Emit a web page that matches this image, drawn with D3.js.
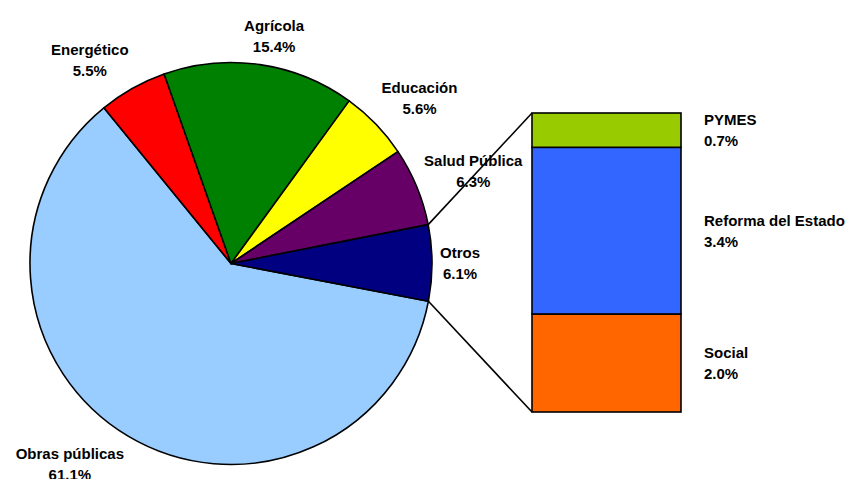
<!DOCTYPE html>
<html>
<head>
<meta charset="utf-8">
<script src="https://cdn.jsdelivr.net/npm/d3@7"></script>
<style>
  body { margin: 0; background: #fff; }
  text { font-family: "Liberation Sans", Arial, sans-serif; font-weight: bold; font-size: 15px; fill: #000; }
</style>
</head>
<body>
<svg id="chart"></svg>
<script>
// pie slices (clockwise, starting with Obras publicas)
var sectors = ['Obras públicas', 'Energético', 'Agrícola', 'Educación', 'Salud Pública', 'Otros'];
var sectorValues = [61.1, 5.5, 15.4, 5.6, 6.3, 6.1];
var sectorColors = ['#99ccff', '#ff0000', '#008000', '#ffff00', '#660066', '#000080'];

// breakdown of "Otros" (top to bottom)
var otros = ['PYMES', 'Reforma del Estado', 'Social'];
var otrosValues = [0.7, 3.4, 2.0];
var otrosColors = ['#99cc00', '#3366ff', '#ff6600'];

var WIDTH = 854, HEIGHT = 479;
var cx = 231, cy = 263.5, R = 201;
var lineH = 21;

var svg = d3.select('#chart').attr('width', WIDTH).attr('height', HEIGHT);

var data = sectors.map(function(s, i) { return { name: s, value: sectorValues[i], color: sectorColors[i] }; });

// start so that "Otros" sits at 3 o'clock
var otrosSpan = sectorValues[5] / d3.sum(sectorValues) * 2 * Math.PI;
var start = Math.PI / 2 + otrosSpan / 2 - 0.003;

var pie = d3.pie().sort(null).value(function(d) { return d.value; })
  .startAngle(start).endAngle(start + 2 * Math.PI);
var arcs = pie(data);
var arc = d3.arc().innerRadius(0).outerRadius(R);

var g = svg.append('g').attr('transform', 'translate(' + cx + ',' + cy + ')');

g.selectAll('path.slice').data(arcs).enter().append('path')
  .attr('class', 'slice')
  .attr('d', arc)
  .attr('fill', function(d) { return d.data.color; })
  .attr('stroke', '#000')
  .attr('stroke-width', 1.6)
  .attr('stroke-linejoin', 'round');

// labels placed outside, box corner anchored near the edge (excel style)
var clamp = function(v) { return Math.max(0, Math.min(1, v)); };
arcs.forEach(function(d) {
  var a = (d.startAngle + d.endAngle) / 2;
  var s = Math.sin(a), c = Math.cos(a);
  var ax = s * (R + 8), ay = -c * (R + 8);
  var lbl = g.append('g');
  var t1 = lbl.append('text').attr('text-anchor', 'middle').attr('y', 16).text(d.data.name);
  var t2 = lbl.append('text').attr('text-anchor', 'middle').attr('y', 16 + lineH).text(d3.format('.1f')(d.data.value) + '%');
  var w = Math.max(t1.node().getComputedTextLength(), t2.node().getComputedTextLength());
  var h = 2 * lineH;
  var fx = clamp(0.5 - 1.5 * s), fy = clamp(0.5 + 0.8 * c);
  var left = ax - fx * w, top = ay - fy * h;
  lbl.attr('transform', 'translate(' + (left + w / 2) + ',' + top + ')');
});

// stacked bar for "Otros"
var barX = 532, barW = 149;
var y = d3.scaleLinear().domain([0, d3.sum(otrosValues)]).range([412, 113]);
var stackData = [];
var acc = 0;
for (var i = otros.length - 1; i >= 0; i--) {
  stackData.push({ name: otros[i], value: otrosValues[i], color: otrosColors[i], y0: acc, y1: acc + otrosValues[i] });
  acc += otrosValues[i];
}

// connector lines
var oArc = arcs[5];
[[oArc.startAngle, y(acc)], [oArc.endAngle, y(0)]].forEach(function(p) {
  svg.append('line')
    .attr('x1', cx + Math.sin(p[0]) * R).attr('y1', cy - Math.cos(p[0]) * R)
    .attr('x2', barX).attr('y2', p[1])
    .attr('stroke', '#000').attr('stroke-width', 1.6);
});

svg.selectAll('rect.seg').data(stackData).enter().append('rect')
  .attr('class', 'seg')
  .attr('x', barX)
  .attr('y', function(d) { return y(d.y1); })
  .attr('width', barW)
  .attr('height', function(d) { return y(d.y0) - y(d.y1); })
  .attr('fill', function(d) { return d.color; })
  .attr('stroke', '#000')
  .attr('stroke-width', 1.6);

var segLabels = svg.selectAll('g.seglabel').data(stackData).enter().append('g')
  .attr('class', 'seglabel')
  .attr('transform', function(d) { return 'translate(' + (barX + barW + 23) + ',' + ((y(d.y0) + y(d.y1)) / 2) + ')'; });
segLabels.append('text').attr('y', -5).text(function(d) { return d.name; });
segLabels.append('text').attr('y', -5 + lineH).text(function(d) { return d3.format('.1f')(d.value) + '%'; });
</script>
</body>
</html>
